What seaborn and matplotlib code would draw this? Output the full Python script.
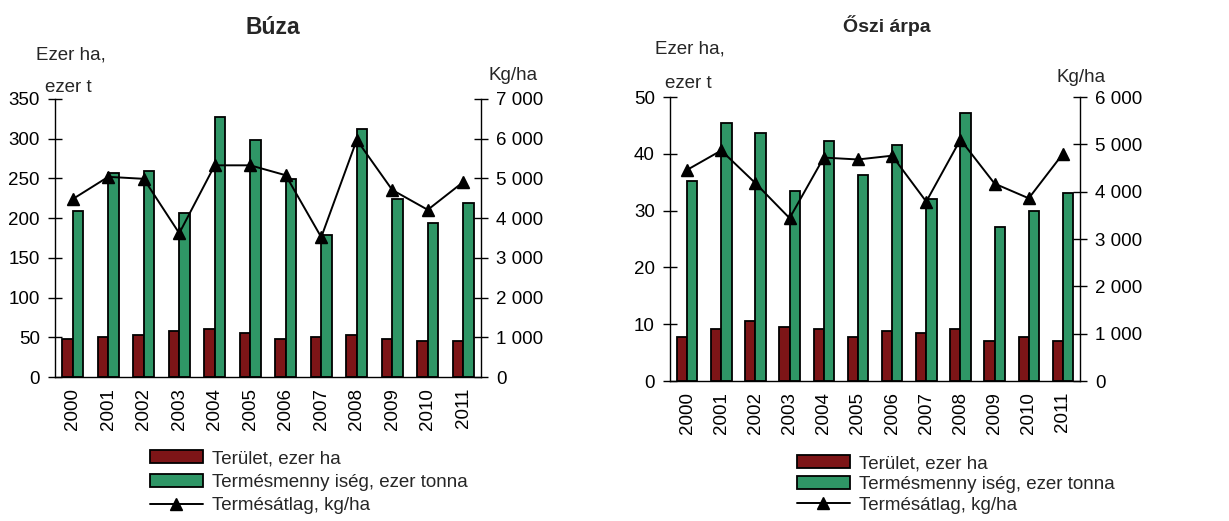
import numpy as np
import pandas as pd
import matplotlib
matplotlib.use("Agg")
import matplotlib.pyplot as plt
from matplotlib import font_manager
from matplotlib.patches import Patch
from matplotlib.lines import Line2D
from matplotlib.ticker import MultipleLocator, FuncFormatter
import seaborn as sns

# Adatok (leolvasva az abráról)
years = [str(y) for y in range(2000, 2012)]

buza_terulet = [48, 50, 53, 58, 60, 55, 48, 50, 53, 48, 45.5, 45.5]
buza_termes = [209, 257, 259, 206, 327, 299, 249, 179, 312, 224, 194, 219]
buza_atlag = [4480, 5040, 4990, 3620, 5330, 5330, 5080, 3520, 5970, 4710, 4210, 4910]

arpa_terulet = [7.7, 9.1, 10.5, 9.5, 9.1, 7.7, 8.8, 8.4, 9.1, 7.0, 7.7, 7.0]
arpa_termes = [35.2, 45.4, 43.6, 33.5, 42.2, 36.3, 41.5, 32.0, 47.2, 27.1, 30.0, 33.1]
arpa_atlag = [4460, 4870, 4180, 3440, 4720, 4680, 4760, 3790, 5100, 4170, 3860, 4800]

series_names = ["Terület, ezer ha", "Termésmenny iség, ezer tonna", "Termésátlag, kg/ha"]
RED = "#7d1517"
GREEN = "#2f9666"
FS = 13.5

W, H = 1229, 521

sns.set_style("white")
installed = {f.name for f in font_manager.fontManager.ttflist}
main_font = "Liberation Sans Narrow" if "Liberation Sans Narrow" in installed else "Liberation Sans"
plt.rcParams["font.family"] = [main_font, "DejaVu Sans"]
plt.rcParams["axes.edgecolor"] = "black"
plt.rcParams["xtick.color"] = "black"
plt.rcParams["ytick.color"] = "black"


def px(x, y):
    # pixel -> figure coordinates
    return x / W, 1 - y / H


def thousands(v, pos):
    return f"{int(v):,}".replace(",", " ")


def draw_panel(fig, box, terulet, termes, atlag, ymax, ystep, y2max):
    left, top, right, bottom = box
    ax = fig.add_axes([left / W, 1 - bottom / H, (right - left) / W, (bottom - top) / H])
    df = pd.DataFrame({
        "Év": years * 2,
        "Érték": terulet + termes,
        "Sorozat": [series_names[0]] * len(years) + [series_names[1]] * len(years),
    })
    sns.barplot(data=df, x="Év", y="Érték", hue="Sorozat", palette=[RED, GREEN],
                width=0.6, edgecolor="black", linewidth=1.3, saturation=1,
                legend=False, ax=ax)

    ax2 = ax.twinx()
    sns.pointplot(x=years, y=atlag, color="black", markers="^", markersize=8,
                  linewidth=1.4, errorbar=None, ax=ax2)

    ax.set_xlim(-0.5, len(years) - 0.5)
    ax.set_ylim(0, ymax)
    ax.yaxis.set_major_locator(MultipleLocator(ystep))
    ax2.set_ylim(0, y2max)
    ax2.yaxis.set_major_locator(MultipleLocator(1000))
    ax2.yaxis.set_major_formatter(FuncFormatter(thousands))

    ax.set_xticks(range(len(years)))
    ax.set_xticklabels(years, rotation=90)
    ax.set_xticks(np.arange(-0.5, len(years), 1), minor=True)
    ax.tick_params(axis="x", which="major", length=0, pad=8, labelsize=FS)
    ax.tick_params(axis="x", which="minor", direction="out", length=6, width=1)
    ax.tick_params(axis="y", direction="inout", length=10, width=1, pad=6, labelsize=FS)
    ax2.tick_params(axis="y", direction="inout", length=10, width=1, pad=6, labelsize=FS)

    ax.set_xlabel("")
    ax.set_ylabel("")
    ax2.set_ylabel("")
    ax.grid(False)
    ax2.grid(False)
    for s in ["top", "right"]:
        ax.spines[s].set_visible(False)
    for s in ["top", "left", "bottom"]:
        ax2.spines[s].set_visible(False)
    for a in (ax, ax2):
        for s in a.spines.values():
            s.set_linewidth(1)
            s.set_color("black")
    return ax, ax2


fig = plt.figure(figsize=(W / 100, H / 100), dpi=100)

draw_panel(fig, (55, 99, 481, 377), buza_terulet, buza_termes, buza_atlag, 350, 50, 7000)
draw_panel(fig, (670, 97, 1080, 381), arpa_terulet, arpa_termes, arpa_atlag, 50, 10, 6000)

# cimek es tengelyfeliratok
fig.text(*px(273, 27), "Búza", ha="center", va="center", fontsize=16.5, fontweight="bold")
fig.text(*px(887, 26), "Őszi árpa", ha="center", va="center", fontsize=14, fontweight="bold")

fig.text(*px(36, 55), "Ezer ha,", ha="left", va="center", fontsize=FS)
fig.text(*px(45, 88), "ezer t", ha="left", va="center", fontsize=FS)
fig.text(*px(488, 75), "Kg/ha", ha="left", va="center", fontsize=FS)

fig.text(*px(655, 49), "Ezer ha,", ha="left", va="center", fontsize=FS)
fig.text(*px(665, 84), "ezer t", ha="left", va="center", fontsize=FS)
fig.text(*px(1057, 77), "Kg/ha", ha="left", va="center", fontsize=FS)

handles = [
    Patch(facecolor=RED, edgecolor="black", linewidth=1.3),
    Patch(facecolor=GREEN, edgecolor="black", linewidth=1.3),
    Line2D([], [], color="black", linewidth=1.4, marker="^", markersize=8),
]

for x0, y0, spacing in [(150, 450, 0.35), (797, 455, 0.2)]:
    fig.legend(handles, series_names, loc="upper left", bbox_to_anchor=px(x0, y0),
               frameon=False, borderpad=0, borderaxespad=0, fontsize=FS,
               handlelength=2.8, handleheight=0.7, handletextpad=0.5,
               labelspacing=spacing)

fig.savefig("out.png", dpi=100)
